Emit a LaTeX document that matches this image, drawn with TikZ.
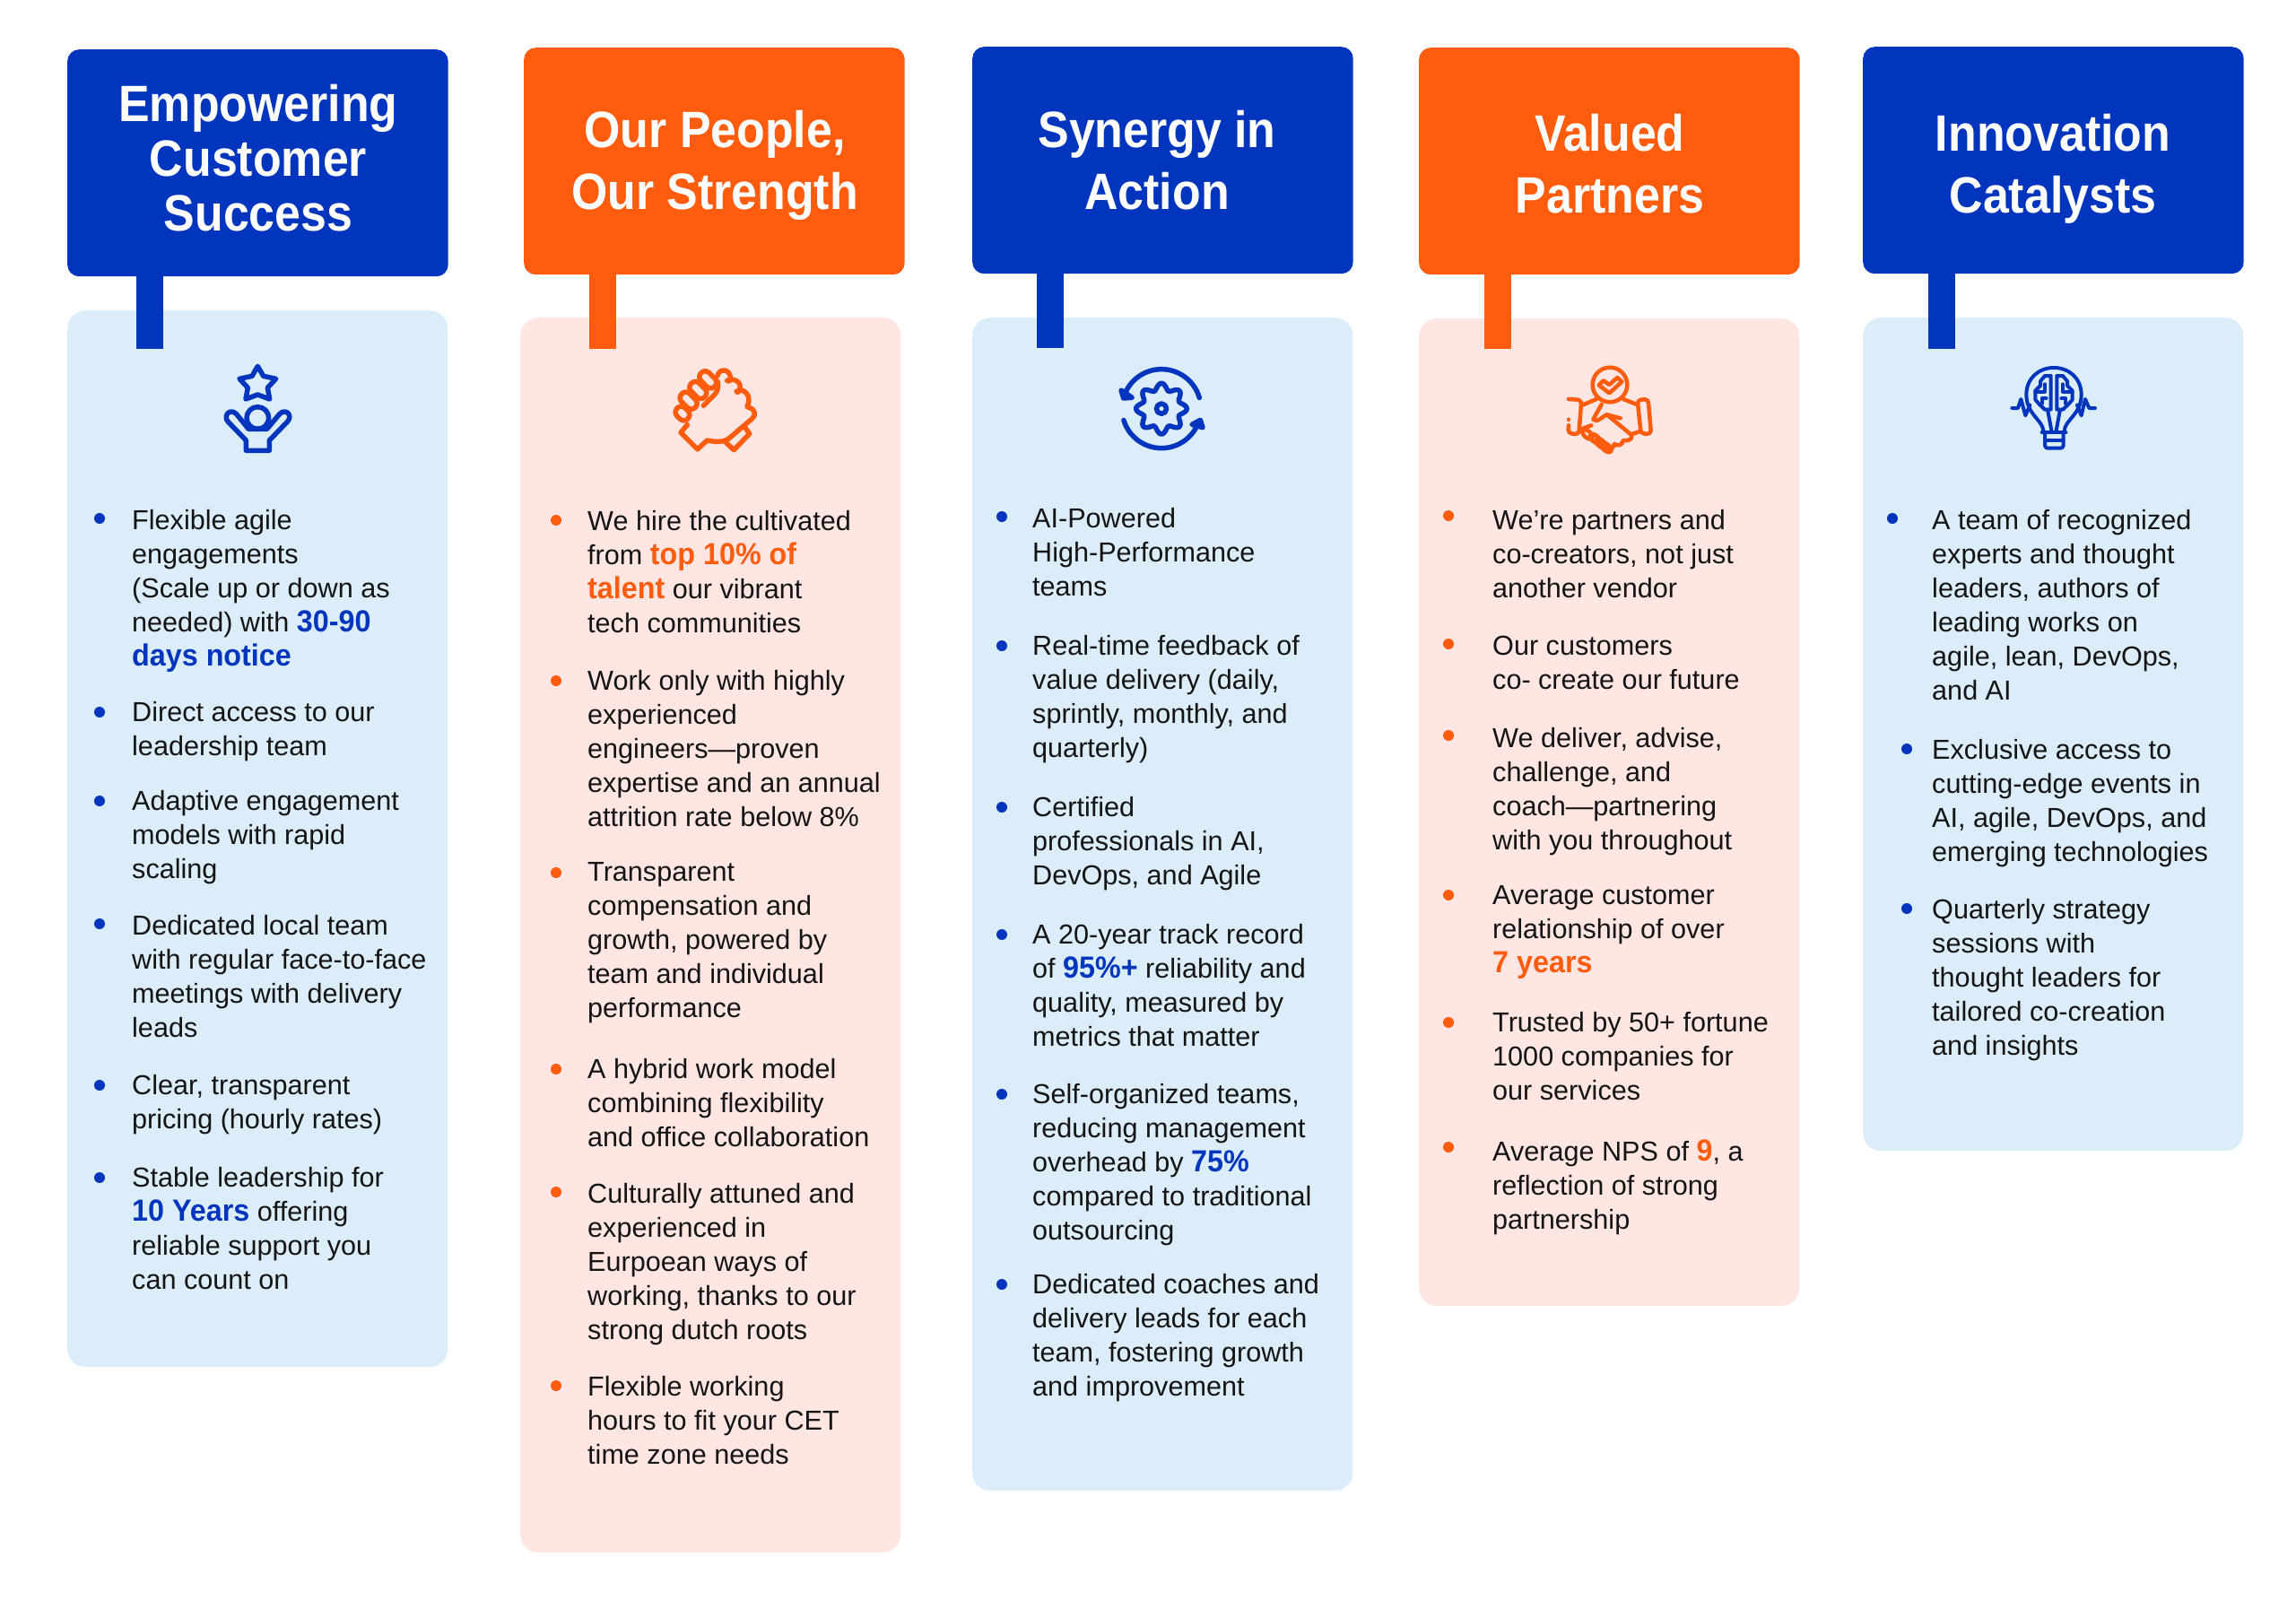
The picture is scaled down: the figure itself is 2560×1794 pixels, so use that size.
\documentclass[tikz,border=0pt]{standalone}
\usepackage{fontspec}
\setmainfont{Liberation Sans}
\newfontfamily\headfont[FakeStretch=0.91]{Liberation Sans}
\newfontfamily\keyfont[FakeStretch=0.95]{Liberation Sans}
\definecolor{brandblue}{HTML}{0235BD}
\definecolor{brandorange}{HTML}{FF5C0E}
\definecolor{paleblue}{HTML}{DCEDFA}
\definecolor{palepink}{HTML}{FFE6E2}
\definecolor{inktext}{HTML}{141414}
\newcommand{\hiblue}[1]{{\keyfont\bfseries\fontsize{34}{38}\selectfont\color{brandblue}#1}}
\newcommand{\hiorange}[1]{{\keyfont\bfseries\fontsize{34}{38}\selectfont\color{brandorange}#1}}
\tikzset{
  headbox/.style={anchor=north west,rounded corners=13pt,minimum width=424.5pt,minimum height=253pt,inner sep=0pt},
  panelbox/.style={anchor=north west,rounded corners=20pt,minimum width=424pt,inner sep=0pt},
  headtext/.style={anchor=north,align=center,inner sep=0pt,text=white,
    execute at begin node={\headfont\bfseries\fontsize{57}{#1}\selectfont\strut}},
  itemtext/.style={anchor=north west,align=left,inner sep=0pt,text=inktext,yshift=-5.5pt,
    execute at begin node={\fontsize{30.6}{38}\selectfont\strut}},
  stemline/.style={line width=30pt},
  iconline/.style={line width=#1,line join=round,line cap=round},
  iconline/.default=5.5pt
}
\begin{document}
\begin{tikzpicture}[x=1pt,y=-1pt]
        \useasboundingbox (0,0) rectangle (2560,1794);
        %% Panels
        \node[panelbox,fill=paleblue,minimum height=1178pt] (p1) at (75,346) {};
        \node[panelbox,fill=palepink,minimum height=1377pt] (p2) at (580,354) {};
        \node[panelbox,fill=paleblue,minimum height=1308pt] (p3) at (1084,354) {};
        \node[panelbox,fill=palepink,minimum height=1101pt] (p4) at (1582,355) {};
        \node[panelbox,fill=paleblue,minimum height=929pt] (p5) at (2077,354) {};
        %% Headers
        \node[headbox,fill=brandblue] (h1) at (75,55) {};
        \node[headbox,fill=brandorange] (h2) at (584,53) {};
        \node[headbox,fill=brandblue] (h3) at (1084,52) {};
        \node[headbox,fill=brandorange] (h4) at (1582,53) {};
        \node[headbox,fill=brandblue] (h5) at (2077,52) {};
        %% Stems
        \coordinate (s1) at (167,389);
        \coordinate (s2) at (672,389);
        \coordinate (s3) at (1171,388);
        \coordinate (s4) at (1670,389);
        \coordinate (s5) at (2165,389);
        \draw[stemline,brandblue] (h1.south -| s1) -- (s1);
        \draw[stemline,brandorange] (h2.south -| s2) -- (s2);
        \draw[stemline,brandblue] (h3.south -| s3) -- (s3);
        \draw[stemline,brandorange] (h4.south -| s4) -- (s4);
        \draw[stemline,brandblue] (h5.south -| s5) -- (s5);
        %% Titles
        \node[headtext=61] (t1) at (288,94) {Empowering\\Customer\\Success};
        \node[headtext=69] (t2) at (797,122.5) {Our People,\\Our Strength};
        \node[headtext=69] (t3) at (1290,122.5) {Synergy in\\Action};
        \node[headtext=69] (t4) at (1795,126.5) {Valued\\Partners};
        \node[headtext=69] (t5) at (2289,126.5) {Innovation\\Catalysts};
        %% Bullets
        \foreach \y in {578,794,893,1030,1210,1313} \fill[brandblue] (111,\y) circle (6);
        \foreach \y in {580,759,973,1192,1329,1545} \fill[brandorange] (620,\y) circle (6);
        \foreach \y in {576,720,900,1042,1220,1432} \fill[brandblue] (1117,\y) circle (6);
        \foreach \y in {575,718,820,998,1140,1279} \fill[brandorange] (1615,\y) circle (6);
        \fill[brandblue] (2110,578) circle (6);
        \foreach \y in {835,1013} \fill[brandblue] (2126,\y) circle (6);
        %% First column
        \node[itemtext] (a1) at (147,563) {Flexible agile\\engagements\\(Scale up or down as\\needed) with \hiblue{30-90}\\\hiblue{days notice}};
        \node[itemtext] (a2) at (147,777) {Direct access to our\\leadership team};
        \node[itemtext] (a3) at (147,876) {Adaptive engagement\\models with rapid\\scaling};
        \node[itemtext] (a4) at (147,1015) {Dedicated local team\\with regular face-to-face\\meetings with delivery\\leads};
        \node[itemtext] (a5) at (147,1193) {Clear, transparent\\pricing (hourly rates)};
        \node[itemtext] (a6) at (147,1296) {Stable leadership for\\\hiblue{10 Years} offering\\reliable support you\\can count on};
        %% Second column
        \node[itemtext] (b1) at (655,564) {We hire the cultivated\\from \hiorange{top 10\% of}\\\hiorange{talent} our vibrant\\tech communities};
        \node[itemtext] (b2) at (655,742) {Work only with highly\\experienced\\engineers---proven\\expertise and an annual\\attrition rate below 8\%};
        \node[itemtext] (b3) at (655,956) {Transparent\\compensation and\\growth, powered by\\team and individual\\performance};
        \node[itemtext] (b4) at (655,1175) {A hybrid work model\\combining flexibility\\and office collaboration};
        \node[itemtext] (b5) at (655,1314) {Culturally attuned and\\experienced in\\Eurpoean ways of\\working, thanks to our\\strong dutch roots};
        \node[itemtext] (b6) at (655,1529) {Flexible working\\hours to fit your CET\\time zone needs};
        %% Third column
        \node[itemtext] (c1) at (1151,561) {AI-Powered\\High-Performance\\teams};
        \node[itemtext] (c2) at (1151,703) {Real-time feedback of\\value delivery (daily,\\sprintly, monthly, and\\quarterly)};
        \node[itemtext] (c3) at (1151,883) {Certified\\professionals in AI,\\DevOps, and Agile};
        \node[itemtext] (c4) at (1151,1025) {A 20-year track record\\of \hiblue{95\%+} reliability and\\quality, measured by\\metrics that matter};
        \node[itemtext] (c5) at (1151,1203) {Self-organized teams,\\reducing management\\overhead by \hiblue{75\%}\\compared to traditional\\outsourcing};
        \node[itemtext] (c6) at (1151,1415) {Dedicated coaches and\\delivery leads for each\\team, fostering growth\\and improvement};
        %% Fourth column
        \node[itemtext] (d1) at (1664,563) {We’re partners and\\co-creators, not just\\another vendor};
        \node[itemtext] (d2) at (1664,703) {Our customers\\co- create our future};
        \node[itemtext] (d3) at (1664,806) {We deliver, advise,\\challenge, and\\coach---partnering\\with you throughout};
        \node[itemtext] (d4) at (1664,982) {Average customer\\relationship of over\\\hiorange{7 years}};
        \node[itemtext] (d5) at (1664,1123) {Trusted by 50+ fortune\\1000 companies for\\our services};
        \node[itemtext] (d6) at (1664,1265) {Average NPS of \hiorange{9}, a\\reflection of strong\\partnership};
        %% Fifth column
        \node[itemtext] (e1) at (2154,563) {A team of recognized\\experts and thought\\leaders, authors of\\leading works on\\agile, lean, DevOps,\\and AI};
        \node[itemtext] (e2) at (2154,819) {Exclusive access to\\cutting-edge events in\\AI, agile, DevOps, and\\emerging technologies};
        \node[itemtext] (e3) at (2154,997) {Quarterly strategy\\sessions with\\thought leaders for\\tailored co-creation\\and insights};
        %% Person with star
        \begin{scope}[shift={(235,395)},x=0.3333pt,y=-0.3333pt]
            \draw[iconline,brandblue] (157,40) -- (176,73) -- (218,82) -- (190,112) -- (197,150) -- (157,135) -- (117,150) -- (124,112) -- (96,82) -- (138,73) -- cycle;
            \draw[iconline,brandblue] (157,213) circle (37);
            \draw[iconline,brandblue] (118,322) -- (118,288) -- (58,226) .. controls (40,206) and (64,178) .. (86,200) -- (126,250) -- (188,250) -- (230,200) .. controls (252,178) and (276,206) .. (256,226) -- (196,288) -- (196,322) -- cycle;
        \end{scope}
        %% Clasped hands
        \begin{scope}[shift={(735,395)},x=0.3333pt,y=-0.3333pt]
            \foreach \cx/\cy/\len in {163/85/32,130/120/32,98/155/32,78/198/25}
                \draw[iconline,brandorange,rotate around={-45:(\cx,\cy)},rounded corners=6pt] (\cx-\len,\cy-19) rectangle (\cx+\len,\cy+19);
            \draw[iconline,brandorange] (195,72) .. controls (200,45) and (240,48) .. (238,82) .. controls (238,92) and (228,92) .. (226,88) .. controls (250,78) and (280,92) .. (268,122) .. controls (266,130) and (258,128) .. (258,124) .. controls (285,110) and (312,140) .. (294,176) .. controls (322,182) and (326,205) .. (310,216) -- (240,276) .. controls (220,296) and (190,294) .. (160,288) -- (128,318) -- (72,262) -- (94,236);
            \draw[iconline,brandorange] (196,92) .. controls (198,110) and (196,122) .. (186,134) -- (148,172);
            \draw[iconline,brandorange] (224,296) -- (250,320) -- (302,266) -- (284,240);
        \end{scope}
        %% Gear with arrows
        \begin{scope}[shift={(1235,395)},x=0.3333pt,y=-0.3333pt]
            \draw[iconline,brandblue] plot[domain=0:360,samples=129,smooth] ({180+(74+11*cos(8*\x))*cos(\x)},{182+(74+11*cos(8*\x))*sin(\x)}) -- cycle;
            \draw[iconline,brandblue] (180,182) circle (17);
            \draw[iconline,brandblue] plot[domain=-16:-157,samples=40,smooth] ({180+132*cos(\x)},{182+132*sin(\x)});
            \draw[iconline,brandblue] plot[domain=163:27,samples=40,smooth] ({180+132*cos(\x)},{182+132*sin(\x)});
            \filldraw[iconline,brandblue] (45,120) -- (53,147) -- (82,145) -- cycle;
            \filldraw[iconline,brandblue] (310,220) -- (318,245) -- (282,235) -- cycle;
        \end{scope}
        %% Handshake with badge
        \begin{scope}[shift={(1735,395)},x=0.3333pt,y=-0.3333pt]
            \draw[iconline=4.5pt,brandorange] (180,102) circle (58);
            \draw[iconline=4.5pt,brandorange] (143,103) -- (158,88) -- (178,102) -- (205,78) -- (220,92) -- (178,130) -- cycle;
            \draw[iconline=4.5pt,brandorange,rounded corners=4pt] (42,150) -- (85,153) -- (76,268) -- (40,264) -- (42,238);
            \draw[iconline=4.5pt,brandorange] (42,218) -- (42,219);
            \draw[iconline=4.5pt,brandorange,rounded corners=4pt] (272,153) -- (308,150) -- (318,266) -- (284,266) -- cycle;
            \draw[iconline=4.5pt,brandorange] (88,170) -- (135,150);
            \draw[iconline=4.5pt,brandorange] (225,150) -- (270,168);
            \draw[iconline=4.5pt,brandorange] (152,168) -- (124,218) .. controls (135,232) and (160,205) .. (170,202) -- (250,268) .. controls (262,282) and (240,292) .. (225,288) .. controls (222,305) and (205,308) .. (195,300) .. controls (190,318) and (180,322) .. (168,315);
            \draw[iconline=4.5pt,brandorange] (170,202) -- (215,214);
            \draw[iconline=4.5pt,brandorange] (85,250) -- (118,238);
            \draw[iconline=4.5pt,brandorange] (252,268) -- (280,258);
            \foreach \cx/\cy in {105/268,130/282,150/298,168/312}
                \draw[iconline=4.5pt,brandorange,rotate around={-40:(\cx,\cy)}] (\cx,\cy) ellipse (20 and 11);
        \end{scope}
        %% Bulb with brain
        \begin{scope}[shift={(2230,395)},x=0.3333pt,y=-0.3333pt]
            \draw[iconline=4pt,brandblue] (145,255) .. controls (142,220) and (88,200) .. (88,135) .. controls (88,80) and (130,45) .. (180,45) .. controls (230,45) and (272,80) .. (272,135) .. controls (272,200) and (218,220) .. (215,255);
            \draw[iconline=4pt,brandblue] (140,262) -- (220,262);
            \draw[iconline=4pt,brandblue,rounded corners=3pt] (150,262) -- (150,314) -- (212,314) -- (212,262);
            \draw[iconline=4pt,brandblue] (150,288) -- (212,288);
            \draw[iconline=4pt,brandblue] (160,190) -- (172,255);
            \draw[iconline=4pt,brandblue] (200,190) -- (188,255);
            \draw[iconline=4pt,brandblue] (170,72) -- (150,72) -- (135,90) -- (135,105) -- (118,122) -- (118,152) -- (132,168) -- (150,185) -- (170,185) -- cycle;
            \draw[iconline=4pt,brandblue] (190,72) -- (210,72) -- (225,90) -- (225,105) -- (242,122) -- (242,152) -- (228,168) -- (210,185) -- (190,185) -- cycle;
            \draw[iconline=4pt,brandblue] (118,125) -- (150,125) -- (150,100);
            \draw[iconline=4pt,brandblue] (140,165) -- (140,148) -- (155,148);
            \draw[iconline=4pt,brandblue] (242,125) -- (210,125) -- (210,100);
            \draw[iconline=4pt,brandblue] (220,165) -- (220,148) -- (205,148);
            \draw[iconline=4pt,brandblue] (40,180) -- (60,180) -- (70,150) -- (85,205) -- (100,170);
            \draw[iconline=4pt,brandblue] (318,180) -- (298,180) -- (285,150) -- (272,205) -- (258,170);
        \end{scope}
    \end{tikzpicture}
\end{document}
